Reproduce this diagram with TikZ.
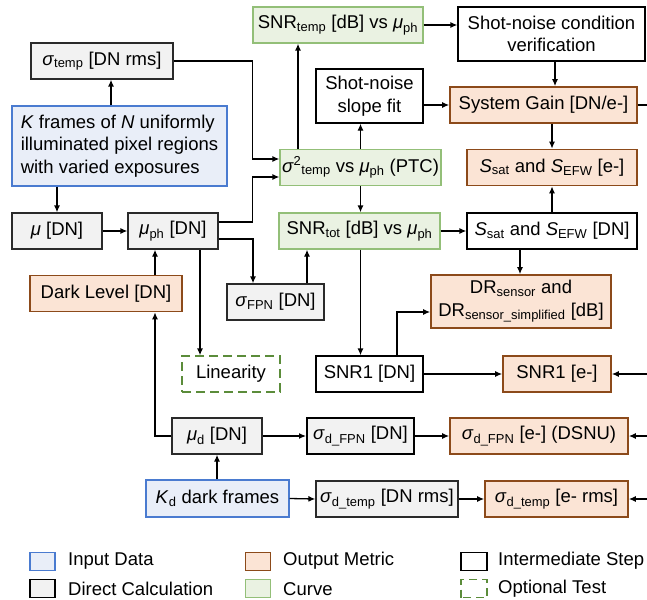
\documentclass[tikz,border=0pt]{standalone}
\usepackage{fontspec}
\setmainfont{Liberation Sans}
\usetikzlibrary{arrows.meta}
\definecolor{infill}{HTML}{E9EEF8}
\definecolor{indraw}{HTML}{4A7BD0}
\definecolor{outfill}{HTML}{FBE4D5}
\definecolor{outdraw}{HTML}{8C4A1A}
\definecolor{dirfill}{HTML}{F2F2F2}
\definecolor{dirdraw}{HTML}{2A2A2A}
\definecolor{curfill}{HTML}{EAF2E2}
\definecolor{curdraw}{HTML}{93BF78}
\definecolor{optdraw}{HTML}{5B8C3A}
\newcommand{\sg}{\textit{σ}}
\newcommand{\mmu}{\textit{μ}}
\newcommand{\sbs}[1]{\textsubscript{#1}}
\begin{document}
\begin{tikzpicture}[x=1pt,y=-1pt,
  font=\fontsize{18.5}{22.5}\selectfont,
  box/.style={draw, line width=1.3pt, inner sep=0pt, align=center},
  inputbox/.style={box, fill=infill, draw=indraw},
  outbox/.style={box, fill=outfill, draw=outdraw, line width=1.6pt},
  dirbox/.style={box, fill=dirfill, draw=dirdraw},
  curbox/.style={box, fill=curfill, draw=curdraw},
  interbox/.style={box, fill=white, draw=black},
  optbox/.style={box, fill=white, draw=optdraw, dash pattern=on 9pt off 5pt},
  arr/.style={line width=1.3pt, -{Latex[length=7pt,width=6pt]}},
  ln/.style={line width=1.3pt},
  legtext/.style={anchor=west, inner sep=0pt}]
\useasboundingbox (0,0) rectangle (647,599);

% Boxes
\node[curbox, minimum width=170pt, minimum height=36pt] (snrtemp) at (338,25) {SNR\sbs{temp} [dB] vs \mmu\sbs{ph}};
\node[interbox, minimum width=187pt, minimum height=54pt] (shotcond) at (551.5,34) {Shot-noise condition\\verification};
\node[dirbox, minimum width=142pt, minimum height=36pt] (sigtemp) at (102,61) {\sg\sbs{temp} [DN rms]};
\node[inputbox, minimum width=215pt, minimum height=80pt, align=left] (kframes) at (119.5,146) {\textit{K} frames of \textit{N} uniformly\\illuminated pixel regions\\with varied exposures};
\node[interbox, minimum width=107pt, minimum height=54pt] (slope) at (369.5,96) {Shot-noise\\slope fit};
\node[outbox, minimum width=187pt, minimum height=36pt] (gain) at (543.5,105) {System Gain [DN/e-]};
\node[curbox, minimum width=161pt, minimum height=36pt] (ptc) at (360.5,167.5) {\sg\textsuperscript{2}\sbs{temp} vs \mmu\sbs{ph} (PTC)};
\node[outbox, minimum width=170pt, minimum height=36pt] (ssate) at (552,167.5) {\textit{S}\sbs{sat} and \textit{S}\sbs{EFW} [e-]};
\node[dirbox, minimum width=90pt, minimum height=36pt] (mu) at (57,231) {\mmu{} [DN]};
\node[dirbox, minimum width=90pt, minimum height=36pt] (muph) at (173,231) {\mmu\sbs{ph} [DN]};
\node[curbox, minimum width=161pt, minimum height=36pt] (snrtot) at (359.5,231) {SNR\sbs{tot} [dB] vs \mmu\sbs{ph}};
\node[interbox, minimum width=170pt, minimum height=36pt] (ssatdn) at (552,231) {\textit{S}\sbs{sat} and \textit{S}\sbs{EFW} [DN]};
\node[outbox, minimum width=152pt, minimum height=36pt] (dark) at (106,293.5) {Dark Level [DN]};
\node[dirbox, minimum width=97pt, minimum height=36pt] (sigfpn) at (275.5,302) {\sg\sbs{FPN} [DN]};
\node[outbox, minimum width=180pt, minimum height=53pt] (dr) at (521,301.5) {DR\sbs{sensor} and\\DR\sbs{sensor\_simplified} [dB]};
\node[optbox, minimum width=98pt, minimum height=36pt] (lin) at (231,374) {Linearity};
\node[interbox, minimum width=107pt, minimum height=36pt] (snr1dn) at (369.5,374) {SNR1 [DN]};
\node[outbox, minimum width=108pt, minimum height=36pt] (snr1e) at (557,374) {SNR1 [e-]};
\node[dirbox, minimum width=90pt, minimum height=36pt] (mud) at (217,436) {\mmu\sbs{d} [DN]};
\node[dirbox, draw=black, line width=1.9pt, minimum width=107pt, minimum height=36pt] (sigdfpn) at (360.5,436) {\sg\sbs{d\_FPN} [DN]};
\node[outbox, minimum width=178pt, minimum height=36pt] (sigdfpne) at (539,436) {\sg\sbs{d\_FPN} [e-] (DSNU)};
\node[inputbox, minimum width=143pt, minimum height=37pt] (kd) at (217.5,498.5) {\textit{K}\sbs{d} dark frames};
\node[dirbox, minimum width=142pt, minimum height=36pt] (sigdtemp) at (387,499) {\sg\sbs{d\_temp} [DN rms]};
\node[outbox, minimum width=143pt, minimum height=36pt] (sigdtempe) at (556.5,499) {\sg\sbs{d\_temp} [e- rms]};

% Right-edge coordinates
\coordinate (gainR) at (647,105);
\coordinate (snr1R) at (647,374);
\coordinate (dfpnR) at (647,436);
\coordinate (dtempR) at (647,499);

% Connectors
\draw[arr] ([xshift=-8.5pt]kframes.north) -- ([xshift=9pt]sigtemp.south);
\draw[arr] (sigtemp.east) -| ([xshift=-27pt,yshift=8.5pt]ptc.west) -- ([yshift=8.5pt]ptc.west);
\draw[arr] (kframes.south -| mu.north) -- (mu.north);
\draw[arr] (mu.east) -- (muph.west);
\draw[arr] ([yshift=9pt]muph.east) -| ([xshift=-27pt,yshift=-9.5pt]ptc.west) -- ([yshift=-9.5pt]ptc.west);
\draw[arr] ([yshift=-8pt]muph.east) -| ([xshift=-22.5pt]sigfpn.north);
\draw[arr] ([xshift=27pt]muph.south) -- ([xshift=-31pt]lin.north);
\draw[arr] ([xshift=49pt]dark.north) -- ([xshift=-18pt]muph.south);
\draw[arr] (mud.west) -| ([xshift=49pt]dark.south);
\draw[arr] ([xshift=31.5pt]sigfpn.north) -- ([xshift=-52.5pt]snrtot.south);
\draw[arr] ([xshift=-62.5pt]ptc.north) -- ([xshift=-40pt]snrtemp.south);
\draw[arr] (ptc.north) -- ([xshift=-9pt]slope.south);
\draw[arr] ([yshift=-9pt]slope.east) -- (gain.west);
\draw[arr] (snrtemp.east) -- ([yshift=9pt]shotcond.west);
\draw[arr] ([xshift=3.5pt]shotcond.south) -- ([xshift=11.5pt]gain.north);
\draw[arr] ([xshift=8.5pt]gain.south) -- (ssate.north);
\draw[ln] (gain.east) -- (gainR);
\draw[arr] (ssatdn.north) -- (ssate.south);
\draw[arr] (ptc.south) -- (ptc.south |- snrtot.north);
\draw[arr] (snrtot.east) -- (ssatdn.west);
\draw[arr] ([xshift=1pt]snrtot.south) -- ([xshift=-9pt]snr1dn.north);
\draw[arr] ([xshift=-32pt]ssatdn.south) -- ([xshift=-1pt]dr.north);
\draw[arr] ([xshift=27.5pt]snr1dn.north) |- ([yshift=-10.5pt]dr.west);
\draw[arr] (snr1dn.east) -- (snr1e.west);
\draw[arr] (snr1R) -- (snr1e.east);
\draw[arr] (mud.east) -- (sigdfpn.west);
\draw[arr] (sigdfpn.east) -- (sigdfpne.west);
\draw[arr] (dfpnR) -- (sigdfpne.east);
\draw[arr] (mud.south |- kd.north) -- (mud.south);
\draw[arr] (kd.east) -- (sigdtemp.west);
\draw[arr] (sigdtemp.east) -- (sigdtempe.west);
\draw[arr] (dtempR) -- (sigdtempe.east);

% Legend
\node[inputbox, minimum width=25pt, minimum height=18pt] (lg1) at (42.5,561.5) {};
\node[legtext] (lt1) at (68,561) {Input Data};
\node[dirbox, draw=black, line width=1.9pt, minimum width=25pt, minimum height=18pt] (lg2) at (42.5,588.5) {};
\node[legtext] (lt2) at (68,589) {Direct Calculation};
\node[outbox, minimum width=25pt, minimum height=18pt] (lg3) at (258,561.5) {};
\node[legtext] (lt3) at (283,561) {Output Metric};
\node[curbox, minimum width=25pt, minimum height=18pt] (lg4) at (258,588.5) {};
\node[legtext] (lt4) at (283,589) {Curve};
\node[interbox, line width=1.6pt, minimum width=26pt, minimum height=18pt] (lg5) at (474,561.5) {};
\node[legtext] (lt5) at (498,561) {Intermediate Step};
\node[optbox, dash pattern=on 8pt off 5pt, dash phase=-2pt, minimum width=26pt, minimum height=18pt] (lg6) at (474,588.5) {};
\node[legtext] (lt6) at (498,589) {Optional Test};
\end{tikzpicture}
\end{document}
